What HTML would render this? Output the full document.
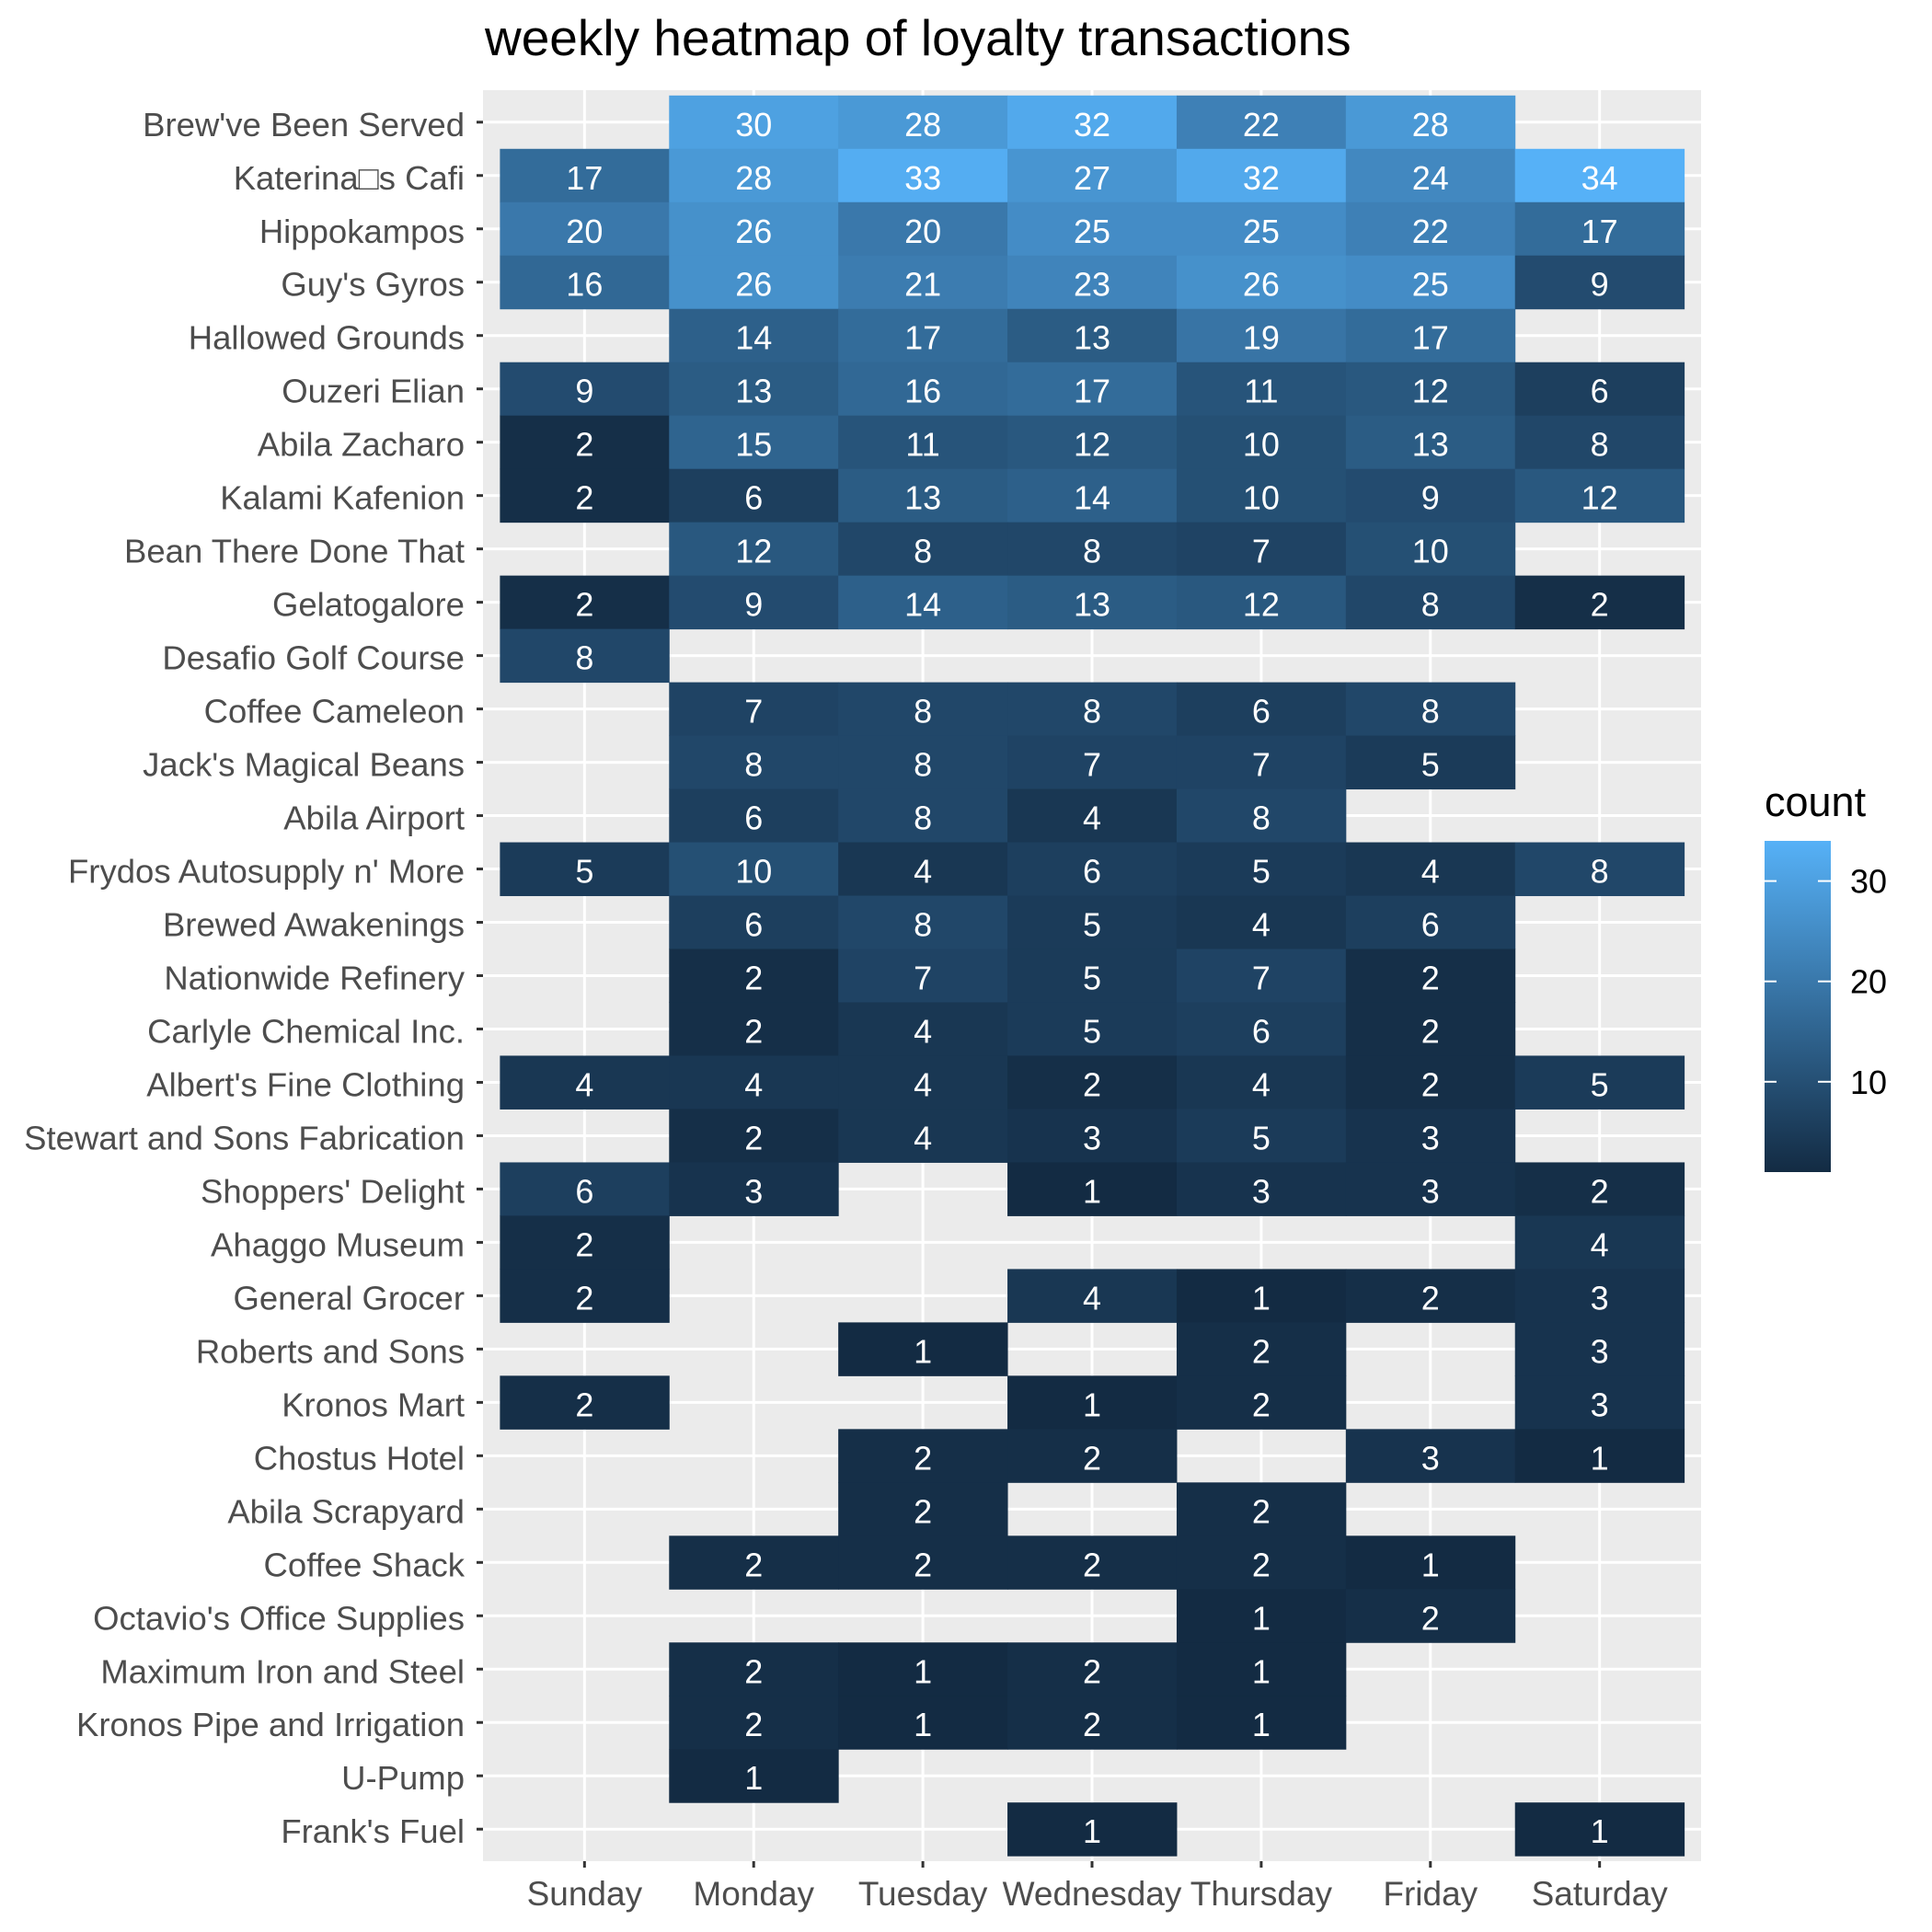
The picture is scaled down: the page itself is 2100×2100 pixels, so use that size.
<!DOCTYPE html>
<html><head><meta charset="utf-8"><style>
body{margin:0;background:#fff}
svg{display:block;font-family:"Liberation Sans",Arial,sans-serif}
</style></head><body>
<svg id="chart" width="2100" height="2100" xmlns="http://www.w3.org/2000/svg">
<text x="527" y="60" font-size="55" fill="#000">weekly heatmap of loyalty transactions</text>
<g id="panel"></g>
<g id="legend"></g>
</svg>
<script>
const days = ["Sunday","Monday","Tuesday","Wednesday","Thursday","Friday","Saturday"];
const places = ["Brew've Been Served","Katerina\u25A1s Cafi","Hippokampos","Guy's Gyros","Hallowed Grounds","Ouzeri Elian","Abila Zacharo","Kalami Kafenion","Bean There Done That","Gelatogalore","Desafio Golf Course","Coffee Cameleon","Jack's Magical Beans","Abila Airport","Frydos Autosupply n' More","Brewed Awakenings","Nationwide Refinery","Carlyle Chemical Inc.","Albert's Fine Clothing","Stewart and Sons Fabrication","Shoppers' Delight","Ahaggo Museum","General Grocer","Roberts and Sons","Kronos Mart","Chostus Hotel","Abila Scrapyard","Coffee Shack","Octavio's Office Supplies","Maximum Iron and Steel","Kronos Pipe and Irrigation","U-Pump","Frank's Fuel"];
const N = null;
const counts = [
[N,30,28,32,22,28,N],
[17,28,33,27,32,24,34],
[20,26,20,25,25,22,17],
[16,26,21,23,26,25,9],
[N,14,17,13,19,17,N],
[9,13,16,17,11,12,6],
[2,15,11,12,10,13,8],
[2,6,13,14,10,9,12],
[N,12,8,8,7,10,N],
[2,9,14,13,12,8,2],
[8,N,N,N,N,N,N],
[N,7,8,8,6,8,N],
[N,8,8,7,7,5,N],
[N,6,8,4,8,N,N],
[5,10,4,6,5,4,8],
[N,6,8,5,4,6,N],
[N,2,7,5,7,2,N],
[N,2,4,5,6,2,N],
[4,4,4,2,4,2,5],
[N,2,4,3,5,3,N],
[6,3,N,1,3,3,2],
[2,N,N,N,N,N,4],
[2,N,N,4,1,2,3],
[N,N,1,N,2,N,3],
[2,N,N,1,2,N,3],
[N,N,2,2,N,3,1],
[N,N,2,N,2,N,N],
[N,2,2,2,2,1,N],
[N,N,N,N,1,2,N],
[N,2,1,2,1,N,N],
[N,2,1,2,1,N,N],
[N,1,N,N,N,N,N],
[N,N,N,1,N,N,1]
];
const legendTicks = [10,20,30];

const NS="http://www.w3.org/2000/svg";
function mk(tag,attrs,parent){const e=document.createElementNS(NS,tag);for(const k in attrs)e.setAttribute(k,attrs[k]);parent.appendChild(e);return e;}
const PL=525,PR=1849,PT=98,PB=2023;
const colW=(PR-PL)/(days.length-1+1.2), rowH=(PB-PT)/(places.length-1+1.2);
const xC=i=>PL+colW*(0.6+i), yC=j=>PT+rowH*(0.6+j);
const flat=counts.flat().filter(v=>v!==null);
const vmin=Math.min(...flat), vmax=Math.max(...flat);
const lo=[0x13,0x2B,0x43], hi=[0x56,0xB1,0xF7];
function col(v){const t=(v-vmin)/(vmax-vmin);const c=lo.map((a,k)=>Math.round(a+(hi[k]-a)*t));return `rgb(${c[0]},${c[1]},${c[2]})`;}
const panel=document.getElementById('panel');
mk('rect',{x:PL,y:PT,width:PR-PL,height:PB-PT,fill:'#EBEBEB'},panel);
days.forEach((d,i)=>{mk('line',{x1:xC(i),x2:xC(i),y1:PT,y2:PB,stroke:'#fff','stroke-width':3},panel);});
places.forEach((p,j)=>{mk('line',{x1:PL,x2:PR,y1:yC(j),y2:yC(j),stroke:'#fff','stroke-width':3},panel);});
counts.forEach((row,j)=>row.forEach((v,i)=>{
  if(v===null)return;
  const r=mk('rect',{x:xC(i)-colW/2,y:yC(j)-rowH/2,width:colW+0.5,height:rowH+0.5,fill:col(v)},panel);
  
  
  const t=mk('text',{x:xC(i),y:yC(j)+15,'text-anchor':'middle','font-size':36,fill:'#fff'},panel);
  
  
  t.textContent=v;
}));
places.forEach((p,j)=>{
  mk('line',{x1:PL-7,x2:PL,y1:yC(j),y2:yC(j),stroke:'#333','stroke-width':3},panel);
  const t=mk('text',{x:PL-20,y:yC(j)+15,'text-anchor':'end','font-size':36.5,fill:'#4D4D4D'},panel);
  
  
  t.textContent=p;
});
days.forEach((d,i)=>{
  mk('line',{x1:xC(i),x2:xC(i),y1:PB,y2:PB+7,stroke:'#333','stroke-width':3},panel);
  const t=mk('text',{x:xC(i),y:2071,'text-anchor':'middle','font-size':37,fill:'#4D4D4D'},panel);
  
  
  t.textContent=d;
});
// legend
const lg=document.getElementById('legend');
const LX=1918,LW=72,LT=914,LB=1274;
const ly=v=>LB-(v-vmin)/(vmax-vmin)*(LB-LT);
const tt=mk('text',{x:1918,y:887,'font-size':45,fill:'#000'},lg);


tt.textContent='count';
const defs=mk('defs',{},lg);
const gr=mk('linearGradient',{id:'g',x1:0,y1:1,x2:0,y2:0},defs);
mk('stop',{offset:0,'stop-color':col(vmin)},gr);
mk('stop',{offset:1,'stop-color':col(vmax)},gr);
const cb=mk('rect',{x:LX,y:LT,width:LW,height:LB-LT,fill:'url(#g)'},lg);


legendTicks.forEach(v=>{
  mk('line',{x1:LX,x2:LX+13,y1:ly(v),y2:ly(v),stroke:'#fff','stroke-width':2},lg);
  mk('line',{x1:LX+LW-14,x2:LX+LW,y1:ly(v),y2:ly(v),stroke:'#fff','stroke-width':2},lg);
  const t=mk('text',{x:2011,y:ly(v)+13,'font-size':36,fill:'#000'},lg);
  
  
  t.textContent=v;
});
</script>
</body></html>
